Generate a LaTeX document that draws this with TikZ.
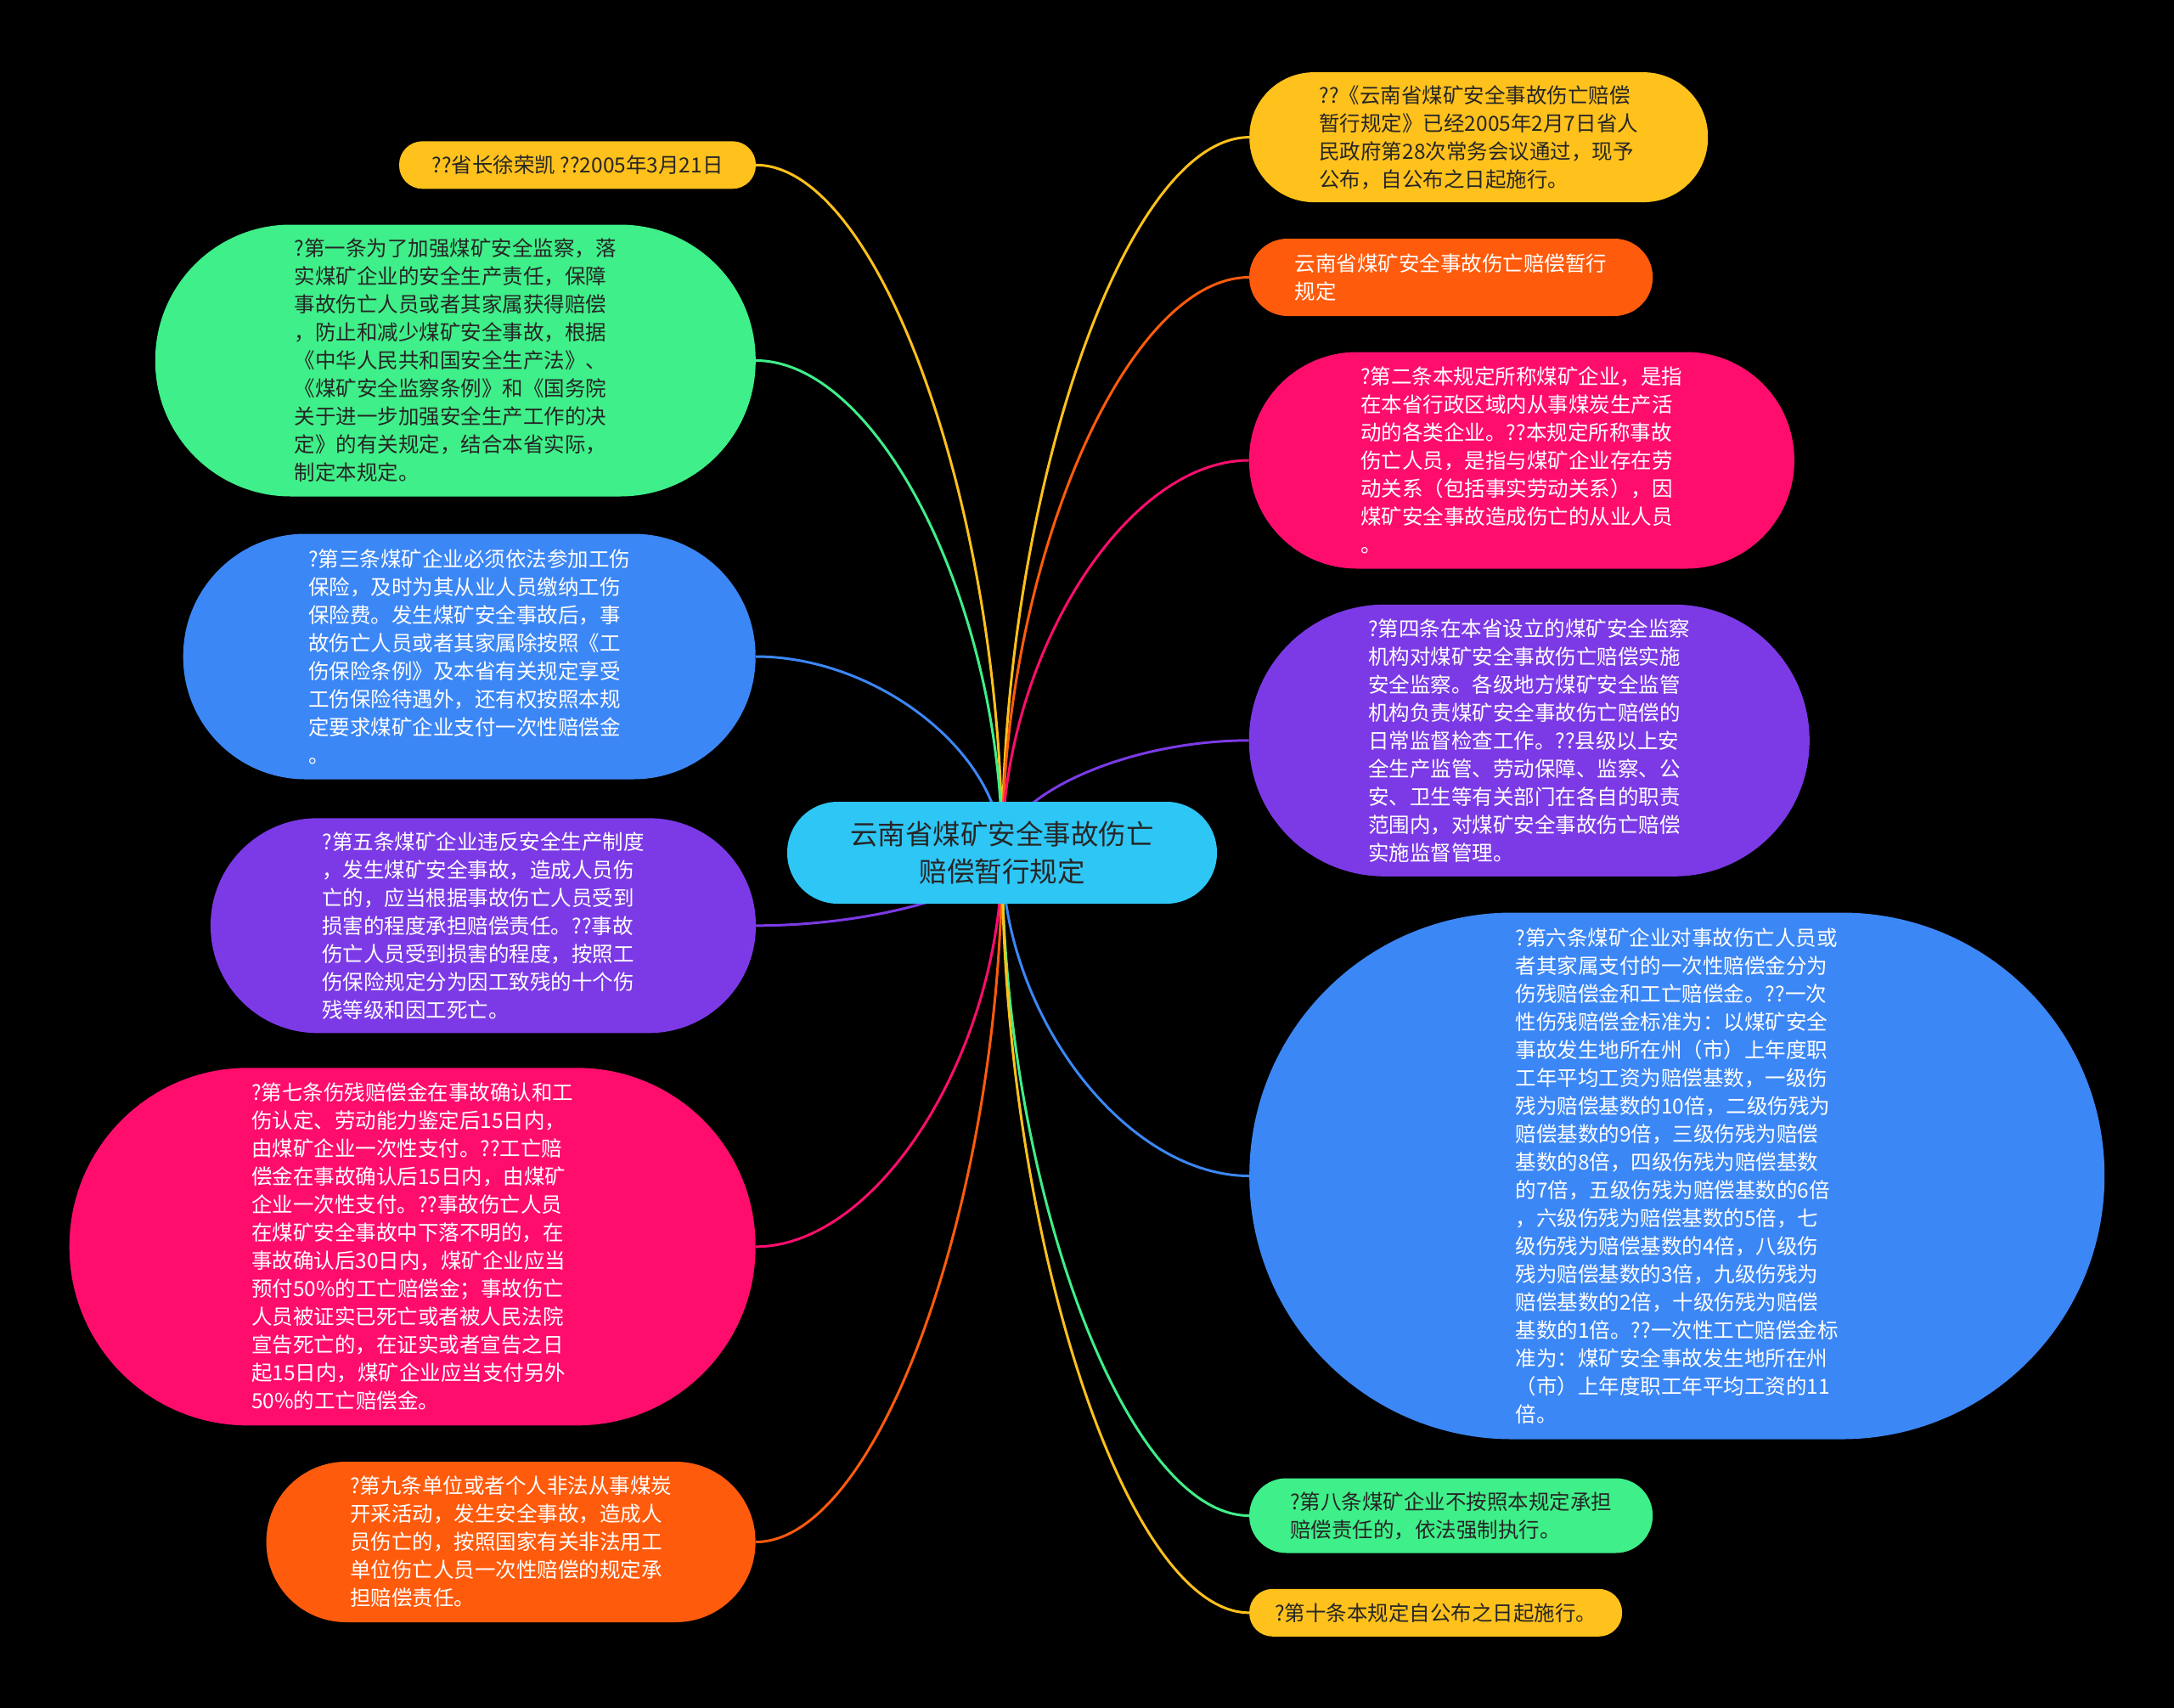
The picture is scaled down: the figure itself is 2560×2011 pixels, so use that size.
\documentclass[tikz,border=0pt]{standalone}
\usepackage{fontspec}
\setmainfont{Noto Sans CJK SC}
\usetikzlibrary{calc,backgrounds}
\definecolor{cyel}{HTML}{FFC11C}
\definecolor{cora}{HTML}{FF5B0C}
\definecolor{cpink}{HTML}{FF0D6D}
\definecolor{cpur}{HTML}{7C3AE6}
\definecolor{cblue}{HTML}{3C87F6}
\definecolor{cgrn}{HTML}{3FEF89}
\definecolor{ccen}{HTML}{2EC6F5}
\definecolor{dtxt}{HTML}{262626}
\tikzset{
  pill/.style={rectangle, inner sep=0pt, align=left, font=\fontsize{24.5}{33}\selectfont},
  link/.style={line width=3pt},
}
\newcommand\linkR[3]{\draw[link,#3] (#1.center) .. controls ($(#1.center)!0.5!(#1.center|-#2.west)$) and ($(#1.center|-#2.west)!0.5!(#2.west)$) .. (#2.west);}
\newcommand\linkL[3]{\draw[link,#3] (#1.center) .. controls ($(#1.center)!0.5!(#1.center|-#2.east)$) and ($(#1.center|-#2.east)!0.5!(#2.east)$) .. (#2.east);}
\begin{document}
\begin{tikzpicture}[x=1pt,y=-1pt]
% center
\node[pill, align=center, fill=ccen, text=dtxt, minimum width=506pt, minimum height=120pt, rounded corners=59.5pt, font=\fontsize{32.5}{44}\selectfont] (c) at (1180,1004) {云南省煤矿安全事故伤亡\\赔偿暂行规定};
% left
\node[pill, fill=cyel, text=dtxt, minimum width=420pt, minimum height=56pt, rounded corners=27.5pt] (l1) at (680,194.3) {??省长徐荣凯 ??2005年3月21日};
\node[pill, fill=cgrn, text=dtxt, minimum width=707pt, minimum height=320pt, rounded corners=159.5pt] (l2) at (536.3,424.5) {?第一条为了加强煤矿安全监察，落\\实煤矿企业的安全生产责任，保障\\事故伤亡人员或者其家属获得赔偿\\，防止和减少煤矿安全事故，根据\\《中华人民共和国安全生产法》、\\《煤矿安全监察条例》和《国务院\\关于进一步加强安全生产工作的决\\定》的有关规定，结合本省实际，\\制定本规定。};
\node[pill, fill=cblue, text=white, minimum width=674pt, minimum height=289pt, rounded corners=144pt] (l3) at (552.7,773) {?第三条煤矿企业必须依法参加工伤\\保险，及时为其从业人员缴纳工伤\\保险费。发生煤矿安全事故后，事\\故伤亡人员或者其家属除按照《工\\伤保险条例》及本省有关规定享受\\工伤保险待遇外，还有权按照本规\\定要求煤矿企业支付一次性赔偿金\\。};
\node[pill, fill=cpur, text=white, minimum width=642pt, minimum height=253pt, rounded corners=126pt] (l4) at (569,1089.8) {?第五条煤矿企业违反安全生产制度\\，发生煤矿安全事故，造成人员伤\\亡的，应当根据事故伤亡人员受到\\损害的程度承担赔偿责任。??事故\\伤亡人员受到损害的程度，按照工\\伤保险规定分为因工致残的十个伤\\残等级和因工死亡。};
\node[pill, fill=cpink, text=white, minimum width=808pt, minimum height=421pt, rounded corners=210pt] (l5) at (485.7,1467.8) {?第七条伤残赔偿金在事故确认和工\\伤认定、劳动能力鉴定后15日内，\\由煤矿企业一次性支付。??工亡赔\\偿金在事故确认后15日内，由煤矿\\企业一次性支付。??事故伤亡人员\\在煤矿安全事故中下落不明的，在\\事故确认后30日内，煤矿企业应当\\预付50\%的工亡赔偿金；事故伤亡\\人员被证实已死亡或者被人民法院\\宣告死亡的，在证实或者宣告之日\\起15日内，煤矿企业应当支付另外\\50\%的工亡赔偿金。};
\node[pill, fill=cora, text=white, minimum width=576pt, minimum height=189pt, rounded corners=94pt] (l6) at (601.6,1815.5) {?第九条单位或者个人非法从事煤炭\\开采活动，发生安全事故，造成人\\员伤亡的，按照国家有关非法用工\\单位伤亡人员一次性赔偿的规定承\\担赔偿责任。};
% right
\node[pill, fill=cyel, text=dtxt, minimum width=540pt, minimum height=153pt, rounded corners=76pt] (r1) at (1741.2,161.6) {??《云南省煤矿安全事故伤亡赔偿\\暂行规定》已经2005年2月7日省人\\民政府第28次常务会议通过，现予\\公布，自公布之日起施行。};
\node[pill, fill=cora, text=white, minimum width=475pt, minimum height=91pt, rounded corners=45pt] (r2) at (1708.6,326.5) {云南省煤矿安全事故伤亡赔偿暂行\\规定};
\node[pill, fill=cpink, text=white, minimum width=642pt, minimum height=255pt, rounded corners=127pt] (r3) at (1791.9,542) {?第二条本规定所称煤矿企业，是指\\在本省行政区域内从事煤炭生产活\\动的各类企业。??本规定所称事故\\伤亡人员，是指与煤矿企业存在劳\\动关系（包括事实劳动关系），因\\煤矿安全事故造成伤亡的从业人员\\。};
\node[pill, fill=cpur, text=white, minimum width=660pt, minimum height=320pt, rounded corners=159.5pt] (r4) at (1800.8,871.8) {?第四条在本省设立的煤矿安全监察\\机构对煤矿安全事故伤亡赔偿实施\\安全监察。各级地方煤矿安全监管\\机构负责煤矿安全事故伤亡赔偿的\\日常监督检查工作。??县级以上安\\全生产监管、劳动保障、监察、公\\安、卫生等有关部门在各自的职责\\范围内，对煤矿安全事故伤亡赔偿\\实施监督管理。};
\node[pill, fill=cblue, text=white, minimum width=1007pt, minimum height=620pt, rounded corners=309.5pt] (r5) at (1974.7,1384.5) {?第六条煤矿企业对事故伤亡人员或\\者其家属支付的一次性赔偿金分为\\伤残赔偿金和工亡赔偿金。??一次\\性伤残赔偿金标准为：以煤矿安全\\事故发生地所在州（市）上年度职\\工年平均工资为赔偿基数，一级伤\\残为赔偿基数的10倍，二级伤残为\\赔偿基数的9倍，三级伤残为赔偿\\基数的8倍，四级伤残为赔偿基数\\的7倍，五级伤残为赔偿基数的6倍\\，六级伤残为赔偿基数的5倍，七\\级伤残为赔偿基数的4倍，八级伤\\残为赔偿基数的3倍，九级伤残为\\赔偿基数的2倍，十级伤残为赔偿\\基数的1倍。??一次性工亡赔偿金标\\准为：煤矿安全事故发生地所在州\\（市）上年度职工年平均工资的11\\倍。};
\node[pill, fill=cgrn, text=dtxt, minimum width=475pt, minimum height=88pt, rounded corners=43.5pt] (r6) at (1708.6,1784.5) {?第八条煤矿企业不按照本规定承担\\赔偿责任的，依法强制执行。};
\node[pill, fill=cyel, text=dtxt, minimum width=439pt, minimum height=56pt, rounded corners=27.5pt] (r7) at (1690.6,1898.8) {?第十条本规定自公布之日起施行。};
\begin{pgfonlayer}{background}
\fill[black] (0,0) rectangle (2560,2011);
\linkL{c}{l1}{cyel}
\linkL{c}{l2}{cgrn}
\linkL{c}{l3}{cblue}
\linkL{c}{l4}{cpur}
\linkL{c}{l5}{cpink}
\linkL{c}{l6}{cora}
\linkR{c}{r1}{cyel}
\linkR{c}{r2}{cora}
\linkR{c}{r3}{cpink}
\linkR{c}{r4}{cpur}
\linkR{c}{r5}{cblue}
\linkR{c}{r6}{cgrn}
\linkR{c}{r7}{cyel}
\end{pgfonlayer}
\end{tikzpicture}
\end{document}
